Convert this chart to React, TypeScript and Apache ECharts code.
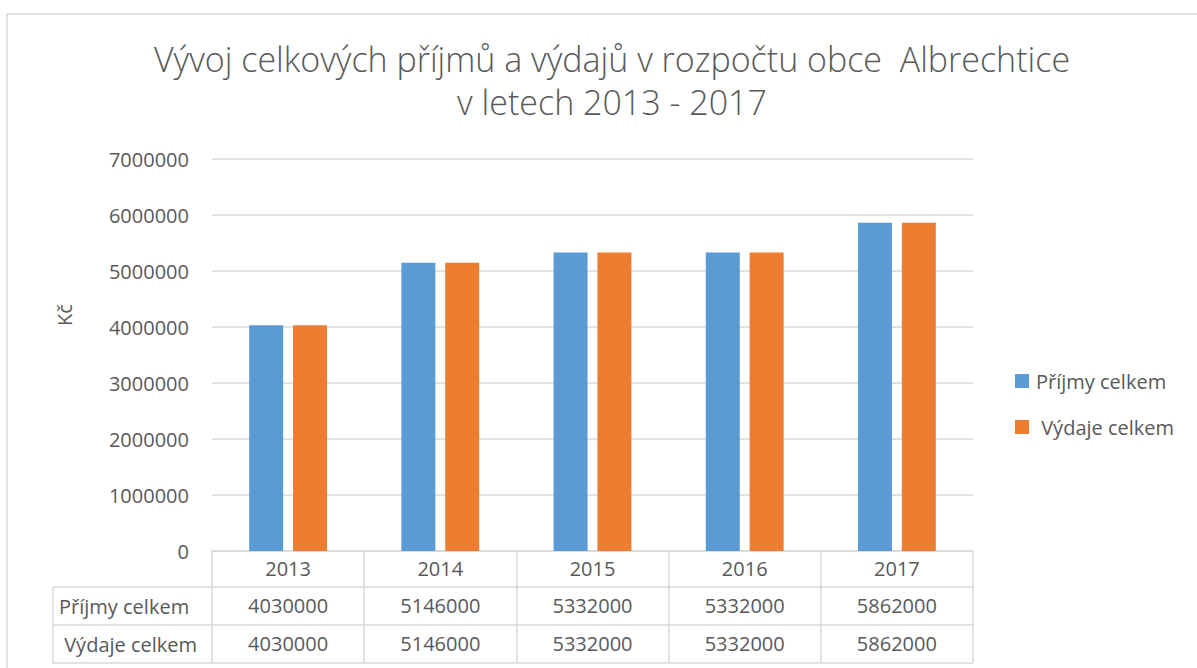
import React, { useEffect, useRef } from "react";
import * as echarts from "echarts";

const years = ["2013", "2014", "2015", "2016", "2017"];
const prijmy = [4030000, 5146000, 5332000, 5332000, 5862000];
const vydaje = [4030000, 5146000, 5332000, 5332000, 5862000];
const seriesNames = ["Příjmy celkem", "Výdaje celkem"];
const titleText = "Vývoj celkových příjmů a výdajů v rozpočtu obce  Albrechtice\nv letech 2013 - 2017";
const yName = "Kč";

const FONT = "'Open Sans', sans-serif";
const TXT = "#595959";
const LINE = "#d9d9d9";

export default function App() {
  const ref = useRef<HTMLDivElement>(null);
  useEffect(() => {
    if (!ref.current) return;
    const chart = echarts.init(ref.current, null, { renderer: "svg" });
    const gLeft = 212, gRight = 973, gTop = 159, gBottom = 551;
    const rowY = [587, 625, 663];
    const tableLeft = 53;
    const lab = { fontFamily: FONT, fontSize: 20, color: TXT };
    chart.setOption({
      animation: false,
      textStyle: { fontFamily: FONT },
      title: {
        text: titleText,
        left: 607,
        top: 32,
        textAlign: "center",
        textStyle: { fontFamily: FONT, fontSize: 34, fontWeight: 300, color: TXT, lineHeight: 43 },
      },
      legend: {
        orient: "vertical",
        left: 1010,
        top: 364,
        itemWidth: 14,
        itemHeight: 14,
        itemGap: 22,
        icon: "rect",
        data: seriesNames,
        formatter: (n: string) => (n === seriesNames[1] ? " " + n : n),
        textStyle: { ...lab, lineHeight: 24, padding: [0, 0, 0, 2] },
      },
      grid: { left: gLeft, right: 1197 - gRight, top: gTop, bottom: 668 - gBottom },
      xAxis: [
        {
          type: "category",
          data: years,
          axisLine: { show: true, lineStyle: { color: LINE, width: 1.5 } },
          axisTick: { show: true, length: rowY[2] - gBottom, lineStyle: { color: LINE, width: 1.5 } },
          axisLabel: { ...lab, margin: 7 },
        },
        {
          type: "category",
          data: prijmy.map(String),
          position: "bottom",
          offset: 37,
          axisLine: { show: false },
          axisTick: { show: false },
          axisLabel: { ...lab, margin: 7 },
        },
        {
          type: "category",
          data: vydaje.map(String),
          position: "bottom",
          offset: 75,
          axisLine: { show: false },
          axisTick: { show: false },
          axisLabel: { ...lab, margin: 7 },
        },
      ],
      yAxis: {
        type: "value",
        min: 0,
        max: 7000000,
        interval: 1000000,
        axisLine: { show: false },
        axisTick: { show: false },
        axisLabel: { ...lab, margin: 23, formatter: (v: number) => String(v) },
        splitLine: { lineStyle: { color: LINE, width: 1.5 } },
      },
      series: [
        {
          name: seriesNames[0],
          type: "bar",
          data: prijmy,
          barWidth: 34,
          barGap: "29%",
          itemStyle: { color: "#5B9BD5" },
        },
        {
          name: seriesNames[1],
          type: "bar",
          data: vydaje,
          barWidth: 34,
          barGap: "29%",
          itemStyle: { color: "#ED7D31" },
        },
      ],
      graphic: [
        {
          type: "rect",
          shape: { x: 7, y: 14, width: 1300, height: 800 },
          style: { fill: "none", stroke: LINE, lineWidth: 1.5 },
          silent: true,
        },
        ...rowY.map((y) => ({
          type: "line",
          shape: { x1: tableLeft, y1: y, x2: gRight, y2: y },
          style: { stroke: LINE, lineWidth: 1.5 },
          silent: true,
        })),
        {
          type: "line",
          shape: { x1: tableLeft, y1: rowY[0], x2: tableLeft, y2: rowY[2] },
          style: { stroke: LINE, lineWidth: 1.5 },
          silent: true,
        },
        {
          type: "text",
          x: 64,
          y: 315,
          rotation: Math.PI / 2,
          style: { text: yName, fill: TXT, font: `20px ${FONT}`, verticalAlign: "middle", align: "center" },
        },
        {
          type: "text",
          x: 59,
          y: (rowY[0] + rowY[1]) / 2,
          style: { text: seriesNames[0], fill: TXT, font: `20px ${FONT}`, verticalAlign: "middle", align: "left" },
        },
        {
          type: "text",
          x: 59,
          y: (rowY[1] + rowY[2]) / 2,
          style: { text: " " + seriesNames[1], fill: TXT, font: `20px ${FONT}`, verticalAlign: "middle", align: "left" },
        },
      ],
    });
    return () => chart.dispose();
  }, []);
  return <div ref={ref} style={{ position: "absolute", left: 0, top: 0, width: 1197, height: 668 }} />;
}
